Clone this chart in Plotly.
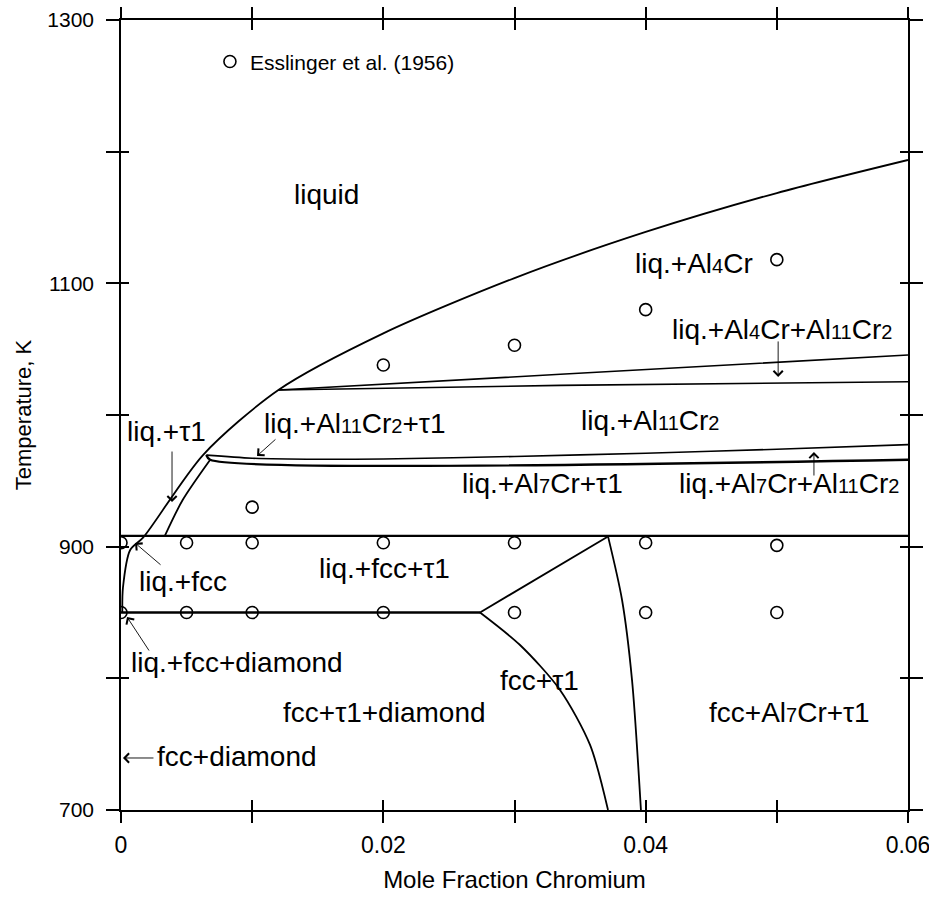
import plotly.graph_objects as go

# ---------------- data ----------------
# Liquidus (liquid / liq.+tau1 / liq.+Al4Cr boundary)
liq_x = [0.0001, 0.00015, 0.0007, 0.0017, 0.00625, 0.0120, 0.020, 0.030, 0.040, 0.050, 0.060]
liq_T = [849.6, 869.0, 897.5, 907.0, 969.6, 1019.0, 1062.0, 1104.0, 1139.0, 1168.6, 1193.7]

# liq.+Al4Cr / liq.+Al4Cr+Al11Cr2 boundary
a4_x = [0.0120, 0.0335, 0.060]
a4_T = [1019.0, 1030.9, 1045.6]
# liq.+Al4Cr+Al11Cr2 / liq.+Al11Cr2 boundary
a11_x = [0.0120, 0.0335, 0.060]
a11_T = [1019.0, 1022.5, 1025.3]

# liq.+Al11Cr2+tau1 upper boundary
b_x = [0.0065, 0.010, 0.015, 0.020, 0.030, 0.040, 0.050, 0.060]
b_T = [969.5, 967.2, 966.4, 966.6, 968.5, 971.0, 974.0, 977.5]
# peritectic line ~966 K
p1_x = [0.0065, 0.0068, 0.060]
p1_T = [969.6, 966.0, 966.0]
# liq.+tau1 lower boundary
t1_x = [0.0068, 0.0047, 0.00335]
t1_T = [966.0, 935.4, 908.4]
# line ~908 K
p2_x = [0.0, 0.060]
p2_T = [908.2, 908.2]
# eutectic ~850 K
p3_x = [0.0, 0.02737]
p3_T = [850.0, 850.0]
# fcc+tau1 boundaries
f1_x = [0.02737, 0.03042, 0.03347, 0.03576, 0.03713]
f1_T = [850.0, 825.3, 791.2, 749.4, 700.0]
f2_x = [0.02737, 0.03713]
f2_T = [850.0, 907.8]
f3_x = [0.03713, 0.0382, 0.03896, 0.03964]
f3_T = [907.8, 859.5, 798.7, 700.0]

# Esslinger et al. (1956) experimental points
exp_x = [0, 0.005, 0.01, 0.02, 0.03, 0.04, 0.05,
         0, 0.005, 0.01, 0.02, 0.03, 0.04, 0.05,
         0.01, 0.02, 0.03, 0.04, 0.05]
exp_T = [903, 903, 903, 903, 903, 903, 901,
         850, 850, 850, 850, 850, 850, 850,
         930, 1038, 1053, 1080, 1118]

# tick labels
x_tickvals = [0, 0.01, 0.02, 0.03, 0.04, 0.05, 0.06]
x_ticktext = ["0", "", "0.02", "", "0.04", "", "0.06"]
y_tickvals = [700, 800, 900, 1000, 1100, 1200, 1300]
y_ticktext = ["700", "", "900", "", "1100", "", "1300"]

def s(t):
    return '<span style="font-size:20px">' + t + '</span>'

# region labels: (text, x, T)
labels = [
    ("liquid", 0.0157, 1167.1),
    ("liq.+Al" + s("4") + "Cr", 0.0437, 1115.0),
    ("liq.+Al" + s("4") + "Cr+Al" + s("11") + "Cr" + s("2"), 0.0504, 1064.6),
    ("liq.+Al" + s("11") + "Cr" + s("2"), 0.0403, 996.2),
    ("liq.+Al" + s("11") + "Cr" + s("2") + "+τ1", 0.0178, 993.2),
    ("liq.+τ1", 0.0035, 987.1),
    ("liq.+Al" + s("7") + "Cr+τ1", 0.0321, 948.3),
    ("liq.+Al" + s("7") + "Cr+Al" + s("11") + "Cr" + s("2"), 0.0509, 948.3),
    ("liq.+fcc", 0.0047, 873.3),
    ("liq.+fcc+τ1", 0.0201, 883.8),
    ("liq.+fcc+diamond", 0.00884, 812.4),
    ("fcc+τ1", 0.0319, 798.7),
    ("fcc+τ1+diamond", 0.0201, 774.4),
    ("fcc+Al" + s("7") + "Cr+τ1", 0.0510, 774.4),
]

# arrows: (tail x, tail T, head x, head T)
arrows = [
    (0.00389, 973.4, 0.00389, 933.9),
    (0.01189, 982.5, 0.01037, 968.9),
    (0.0501, 1057.0, 0.0501, 1028.9),
    (0.05283, 952.9, 0.05283, 971.9),
    (0.00313, 885.3, 0.00107, 902.8),
    (0.00221, 820.0, 0.00046, 846.6),
    (0.00259, 739.5, 0.00015, 739.5),
]

fig = go.Figure()
lw_thin = 1.6
lw_thick = 2.4
for xs, ts, w in [(liq_x, liq_T, 1.8), (a4_x, a4_T, lw_thin), (a11_x, a11_T, lw_thin),
                  (b_x, b_T, lw_thin), (p1_x, p1_T, lw_thick), (t1_x, t1_T, 1.8),
                  (p2_x, p2_T, lw_thick), (p3_x, p3_T, lw_thick),
                  (f1_x, f1_T, 1.8), (f2_x, f2_T, 1.8), (f3_x, f3_T, 1.8)]:
    fig.add_trace(go.Scatter(x=xs, y=ts, mode="lines", line=dict(color="black", width=w,
                  shape="spline", smoothing=0.8), showlegend=False, hoverinfo="skip"))

fig.add_trace(go.Scatter(x=exp_x, y=exp_T, mode="markers", name="Esslinger et al. (1956)",
                         marker=dict(symbol="circle-open", size=12, color="black",
                                     line=dict(width=1.6, color="black"))))

# invisible trace for overlay axes (inside ticks)
fig.add_trace(go.Scatter(x=[0.03], y=[1000], mode="markers", marker=dict(opacity=0),
                         xaxis="x2", yaxis="y2", showlegend=False, hoverinfo="skip"))

sans = "Liberation Sans, Arial, sans-serif"
txtfont = dict(family=sans, size=28, color="black")
for t, x, y in labels:
    fig.add_annotation(x=x, y=y, text=t, showarrow=False, font=txtfont,
                       xanchor="center", yanchor="middle")

for tx, ty, hx, hy in arrows:
    fig.add_annotation(x=hx, y=hy, ax=tx, ay=ty, axref="x", ayref="y", text="",
                       showarrow=True, arrowhead=4, arrowsize=2.0, arrowwidth=0.9,
                       arrowcolor="black")

fig.add_annotation(x=0.00259, y=740.5, text="fcc+diamond", showarrow=False, font=txtfont,
                   xanchor="left", yanchor="middle")

fig.update_layout(
    width=929, height=901,
    margin=dict(l=121, r=21, t=20, b=91, autoexpand=False),
    paper_bgcolor="white", plot_bgcolor="white",
    showlegend=True,
    legend=dict(x=0.113, y=0.947, xanchor="left", yanchor="middle",
                font=dict(family=sans, size=21, color="black"),
                bgcolor="rgba(0,0,0,0)", itemwidth=30),
    xaxis=dict(range=[0, 0.06], tickvals=x_tickvals, ticktext=x_ticktext,
               ticks="outside", ticklen=11, tickwidth=1.5, tickcolor="black",
               showline=True, linecolor="black", linewidth=1.5, mirror="ticks",
               showgrid=False, zeroline=False, automargin=False,
               tickfont=dict(family=sans, size=23, color="black"),
               ticklabelstandoff=3, ticklabeloverflow="allow",
               title=dict(text="Mole Fraction Chromium",
                          font=dict(family=sans, size=24, color="black"), standoff=14)),
    yaxis=dict(range=[700, 1300], tickvals=y_tickvals, ticktext=y_ticktext,
               ticks="outside", ticklen=13, tickwidth=1.5, tickcolor="black",
               showline=True, linecolor="black", linewidth=1.5, mirror="ticks",
               showgrid=False, zeroline=False, automargin=False,
               tickfont=dict(family=sans, size=21, color="black"),
               ticklabelstandoff=8, ticklabeloverflow="allow",
               title=dict(text="Temperature, K",
                          font=dict(family=sans, size=22, color="black"),
                          standoff=10)),
    xaxis2=dict(range=[0, 0.06], overlaying="x", side="bottom", tickvals=x_tickvals,
                ticks="inside", ticklen=10, tickwidth=1.5, tickcolor="black",
                showticklabels=False, showline=False, mirror="ticks", automargin=False,
                showgrid=False, zeroline=False),
    yaxis2=dict(range=[700, 1300], overlaying="y", side="left", tickvals=y_tickvals,
                ticks="inside", ticklen=8, tickwidth=1.5, tickcolor="black",
                showticklabels=False, showline=False, mirror="ticks", automargin=False,
                showgrid=False, zeroline=False),
)

fig.write_html("out.html")
